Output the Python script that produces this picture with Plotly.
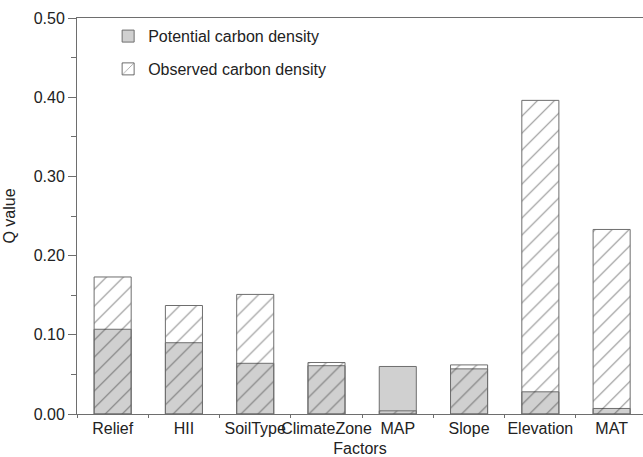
import plotly.graph_objects as go

factors = ["Relief", "HII", "SoilType", "ClimateZone", "MAP", "Slope", "Elevation", "MAT"]
potential = [0.107, 0.090, 0.064, 0.061, 0.060, 0.057, 0.028, 0.007]
observed = [0.173, 0.137, 0.151, 0.065, 0.004, 0.062, 0.396, 0.233]

font_family = "Liberation Sans, Arial, sans-serif"
edge = "#6e6e6e"

fig = go.Figure()
fig.add_trace(go.Bar(
    x=factors, y=potential, name="Potential carbon density",
    width=0.52,
    marker=dict(color="#d0d0d0", line=dict(color=edge, width=1)),
    legendgroup="a",
))
fig.add_trace(go.Bar(
    x=factors, y=observed, name="Observed carbon density",
    width=0.52,
    marker=dict(
        color="rgba(0,0,0,0)",
        line=dict(color=edge, width=1),
        pattern=dict(shape="/", size=12, solidity=0.09,
                     fgcolor="#222222", bgcolor="rgba(0,0,0,0)"),
    ),
    legendgroup="b",
))

fig.update_layout(
    width=643, height=457,
    barmode="overlay",
    plot_bgcolor="white", paper_bgcolor="white",
    margin=dict(l=77, r=0, t=18, b=43),
    font=dict(family=font_family, size=16, color="#222"),
    showlegend=True,
    legend=dict(
        x=0.055, y=0.997, xanchor="left", yanchor="top",
        bgcolor="rgba(0,0,0,0)", traceorder="grouped", tracegroupgap=9,
        font=dict(size=16),
    ),
    xaxis=dict(
        title=dict(text="Factors", standoff=6, font=dict(size=16)),
        range=[-0.5, 7.44], tickangle=0, automargin=False,
        showline=True, linecolor=edge, linewidth=1, mirror=True,
        ticks="outside", tickson="boundaries", ticklen=3, tickcolor=edge,
        showgrid=False, zeroline=False,
        tickfont=dict(size=16),
    ),
    yaxis=dict(
        title=dict(text="Q value", standoff=14, font=dict(size=16)),
        range=[0, 0.5], tickvals=[0, 0.1, 0.2, 0.3, 0.4, 0.5],
        tickformat=".2f", automargin=False,
        showline=True, linecolor=edge, linewidth=1,
        ticks="outside", ticklen=8, tickcolor=edge,
        minor=dict(tickvals=[0.05, 0.15, 0.25, 0.35, 0.45], ticks="outside",
                   ticklen=5, tickcolor=edge),
        showgrid=False, zeroline=False,
        tickfont=dict(size=16),
    ),
)

fig.write_html("out.html")
